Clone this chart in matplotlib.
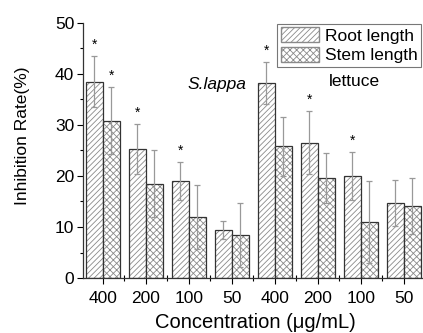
import matplotlib
matplotlib.use('Agg')
import matplotlib.pyplot as plt
import numpy as np
from matplotlib.patches import Patch

plt.rcParams['font.family'] = ['Liberation Sans', 'DejaVu Sans']
plt.rcParams['hatch.linewidth'] = 0.6

# data
conc = ['400', '200', '100', '50', '400', '200', '100', '50']
root = [38.4, 25.2, 19.0, 9.4, 38.2, 26.5, 20.0, 14.7]
root_err = [5.0, 4.9, 3.8, 1.8, 4.1, 6.2, 4.7, 4.5]
stem = [30.8, 18.5, 12.0, 8.4, 25.8, 19.5, 11.0, 14.1]
stem_err = [6.6, 6.5, 6.3, 6.2, 5.8, 4.9, 8.0, 5.5]
root_star = [1, 1, 1, 0, 1, 1, 1, 0]
stem_star = [1, 0, 0, 0, 0, 0, 0, 0]

fig = plt.figure(figsize=(4.23, 3.33), dpi=100)
# axes runs past the right edge, like the cropped original
ax = fig.add_axes([0.1955, 0.165, 0.81, 0.767])

x = np.arange(1, len(conc) + 1)
w = 0.4
hatch_col = '#8a8a8a'
edge_col = '#333333'

for xs, vals, errs, stars, hat in [(x - w/2, root, root_err, root_star, '//////'),
                                   (x + w/2, stem, stem_err, stem_star, 'xxxxx')]:
    ax.bar(xs, vals, w, color='white', edgecolor=hatch_col, hatch=hat, lw=0)
    ax.bar(xs, vals, w, fill=False, edgecolor=edge_col, lw=0.9)
    ax.errorbar(xs, vals, yerr=errs, fmt='none', ecolor='#999999',
                elinewidth=0.9, capsize=2.5, capthick=0.9)
    for xi, v, e, s in zip(xs, vals, errs, stars):
        if s:
            ax.text(xi, v + e + 0.8, '*', ha='center', va='bottom', fontsize=10)

ax.set_xlim(0.53, 8.5)
ax.set_ylim(0, 50)
ax.set_xticks(x)
ax.set_xticklabels(conc, fontsize=12.5)
ax.set_xticks(x[:-1] + 0.5, minor=True)
ax.set_yticks(np.arange(0, 51, 10))
ax.set_yticks(np.arange(5, 50, 10), minor=True)
ax.tick_params(axis='y', labelsize=12.5, length=4, width=0.8, pad=2)
ax.tick_params(axis='x', length=4, width=0.8, pad=5)
ax.tick_params(which='minor', length=2.5, width=0.8)
ax.tick_params(axis='x', which='minor', direction='inout', length=4)
for s in ['top', 'right']:
    ax.spines[s].set_visible(False)
for s in ['left', 'bottom']:
    ax.spines[s].set_color('#333333')
    ax.spines[s].set_linewidth(0.9)

ax.text(3.65, 37.8, 'S.lappa', style='italic', fontsize=12.5, ha='center', va='center')
ax.text(6.84, 38.4, 'lettuce', fontsize=12.5, ha='center', va='center')

handles = [Patch(facecolor='white', edgecolor=hatch_col, hatch='//////'),
           Patch(facecolor='white', edgecolor=hatch_col, hatch='xxxxx')]
leg = ax.legend(handles, ['Root length', 'Stem length'], loc='upper right',
                bbox_to_anchor=(421/423, 1 - 24/333), bbox_transform=fig.transFigure,
                fontsize=12.5, handlelength=2.2, handleheight=0.9, handletextpad=0.35,
                labelspacing=0.2, borderpad=0.2, borderaxespad=0, fancybox=False)
leg.get_frame().set_edgecolor('#555555')
leg.get_frame().set_linewidth(0.8)

fig.text(23/423, 1 - 136/333, 'Inhibition Rate(%)', rotation=90, ha='center',
         va='center', fontsize=12.5)
fig.text(255/423, 1 - 322/333, 'Concentration (\u03bcg/mL)', ha='center',
         va='center', fontsize=14.5)

fig.savefig('out.png', dpi=100)
